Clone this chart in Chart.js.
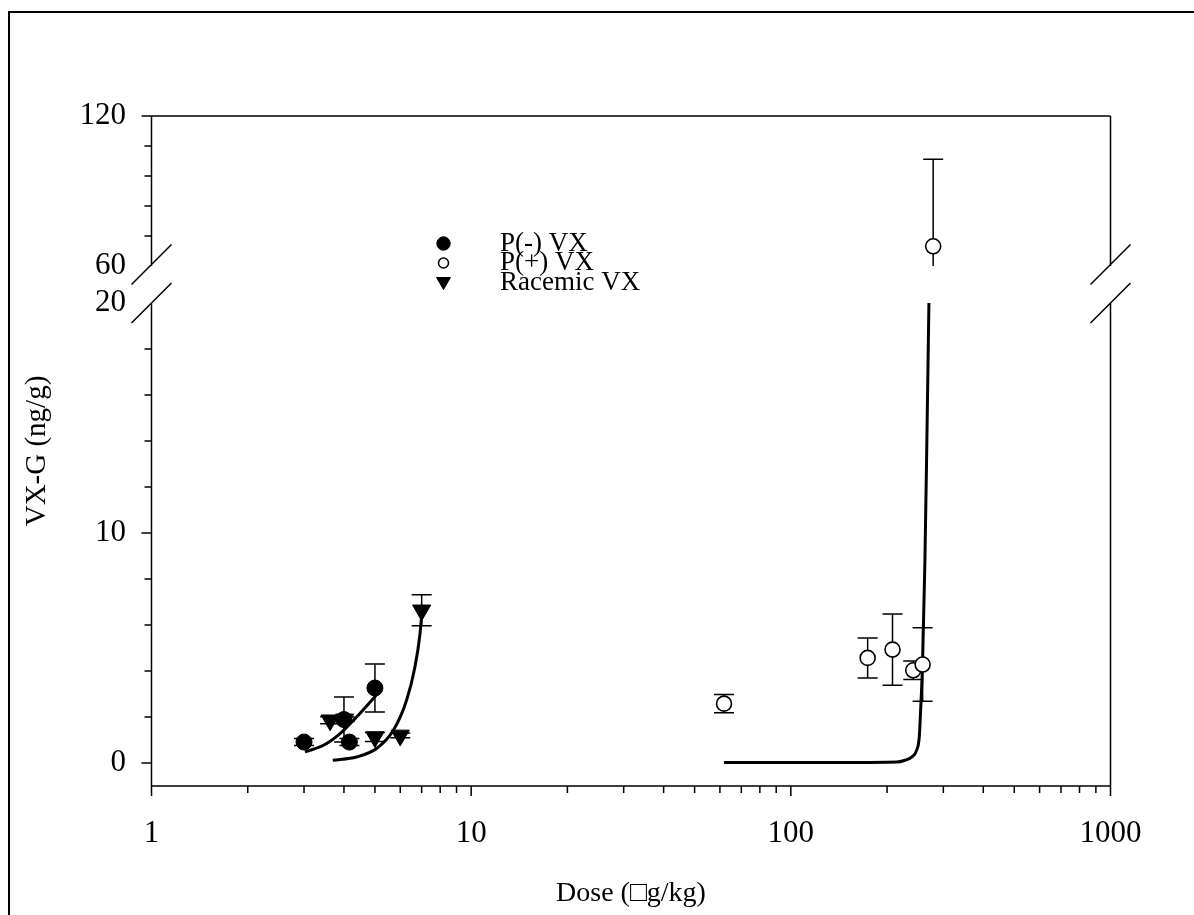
<!DOCTYPE html>
<html><head><meta charset="utf-8">
<script src="https://cdn.jsdelivr.net/npm/chart.js@4/dist/chart.umd.min.js"></script>
<style>html,body{margin:0;padding:0;background:#fff;}</style>
</head><body>
<canvas id="c" width="1194" height="915"></canvas>
<script>
// ---------- data ----------
const pMinusDose = [3.0, 4.0, 4.16, 5.0];
const pMinusVXG  = [0.91, 1.89, 0.91, 3.26];
const pMinusErr  = [0.15, 0.98, 0.15, 1.04];

const pPlusDose = [61.8, 173.9, 208, 241.5, 258.4, 278.8];
const pPlusVXG  = [2.58, 4.57, 4.93, 4.03, 4.28, 67.9];
const pPlusErr  = [0.40, 0.87, 1.55, 0.40, 1.60, 34.8];

const racDose = [3.62, 4.02, 5.0, 6.0, 7.0];
const racVXG  = [1.86, 1.90, 1.13, 1.20, 6.64];
const racErr  = [0.15, 0.10, 0.20, 0.10, 0.67];

const pMinusFitDose = [3.02, 3.45, 3.89, 4.38, 5.04];
const pMinusFitVXG  = [0.48, 0.77, 1.28, 2.00, 2.94];

const racFitDose = [3.69, 4.38, 5.06, 5.71, 6.28, 6.67, 6.92, 7.0];
const racFitVXG  = [0.12, 0.26, 0.63, 1.42, 2.73, 4.17, 5.63, 6.42];

const pPlusFitDose = [61.8, 100, 150, 214, 227.6, 238.7, 247.4, 252.2, 254.7, 258.4, 262.7, 266.4, 270.4];
const pPlusFitVXG  = [0.02, 0.02, 0.02, 0.04, 0.12, 0.26, 0.55, 1.13, 2.29, 4.47, 8.8, 14.0, 20.0];

const xTickVals = [1, 10, 100, 1000];
const yTickVals = [0, 10, 20, 60, 120];
const yMinorLower = [2, 4, 6, 8, 12, 14, 16, 18];
const yMinorUpper = [72, 84, 96, 108];
const legendLabels = ['P(-) VX', 'P(+) VX', 'Racemic VX'];
const xTitle = 'Dose (\u25A1g/kg)';
const yTitle = 'VX-G (ng/g)';

// ---------- broken y scale ----------
const BREAK = {lowMin: -1, lowMax: 20, highMin: 60, highMax: 120, lowTo: 0.7209, highFrom: 0.7761};
class BrokenLinearScale extends Chart.LinearScale {
  _frac(v) {
    const b = BREAK;
    if (v <= b.lowMax) return (v - b.lowMin) / (b.lowMax - b.lowMin) * b.lowTo;
    if (v >= b.highMin) return b.highFrom + (v - b.highMin) / (b.highMax - b.highMin) * (1 - b.highFrom);
    return b.lowTo + (v - b.lowMax) / (b.highMin - b.lowMax) * (b.highFrom - b.lowTo);
  }
  getPixelForValue(v) {
    if (v === null || v === undefined || isNaN(v)) return NaN;
    return this.bottom - this._frac(v) * (this.bottom - this.top);
  }
  getValueForPixel(p) {
    const b = BREAK;
    const f = (this.bottom - p) / (this.bottom - this.top);
    if (f <= b.lowTo) return b.lowMin + f / b.lowTo * (b.lowMax - b.lowMin);
    if (f >= b.highFrom) return b.highMin + (f - b.highFrom) / (1 - b.highFrom) * (b.highMax - b.highMin);
    return b.lowMax + (f - b.lowTo) / (b.highFrom - b.lowTo) * (b.highMin - b.lowMax);
  }
}
BrokenLinearScale.id = 'brokenLinear';
BrokenLinearScale.defaults = Chart.LinearScale.defaults;
Chart.register(BrokenLinearScale);

const FONT = 'Liberation Serif, Times New Roman, serif';
const pts = (xs, ys) => xs.map((x, i) => ({x: x, y: ys[i]}));

const markerStyles = [
  {pointStyle: 'circle', radius: 8, rotation: 0, bg: '#000', border: '#000', bw: 1},
  {pointStyle: 'circle', radius: 7.5, rotation: 0, bg: '#fff', border: '#000', bw: 1.6},
  {pointStyle: 'triangle', radius: 10.5, rotation: 180, bg: '#000', border: '#000', bw: 1}
];

function markerDs(label, xs, ys, errs, st) {
  return {label, data: pts(xs, ys), errors: errs, showLine: false,
    pointStyle: st.pointStyle, pointRadius: st.radius, pointRotation: st.rotation,
    pointBackgroundColor: st.bg, pointBorderColor: st.border, pointBorderWidth: st.bw};
}
function fitDs(xs, ys) {
  return {label: 'fit', data: pts(xs, ys), showLine: true, borderColor: '#000', borderWidth: 3,
    pointRadius: 0, cubicInterpolationMode: 'monotone', fill: false, isFit: true};
}

const datasets = [
  markerDs(legendLabels[0], pMinusDose, pMinusVXG, pMinusErr, markerStyles[0]),
  markerDs(legendLabels[1], pPlusDose, pPlusVXG, pPlusErr, markerStyles[1]),
  markerDs(legendLabels[2], racDose, racVXG, racErr, markerStyles[2]),
  fitDs(pMinusFitDose, pMinusFitVXG),
  fitDs(racFitDose, racFitVXG),
  fitDs(pPlusFitDose, pPlusFitVXG)
];

const LW = 1.5;

const framePlugin = {
  id: 'frame',
  beforeDraw(chart) {
    const ctx = chart.ctx;
    ctx.save();
    ctx.fillStyle = '#fff';
    ctx.fillRect(0, 0, chart.width, chart.height);
    ctx.strokeStyle = '#000';
    ctx.lineWidth = 2;
    ctx.beginPath();
    ctx.moveTo(9, chart.height + 5);
    ctx.lineTo(9, 12);
    ctx.lineTo(chart.width + 5, 12);
    ctx.stroke();
    ctx.restore();
  },
  beforeDatasetsDraw(chart) {
    const ctx = chart.ctx, a = chart.chartArea, y = chart.scales.y, x = chart.scales.x;
    const yLowTop = y.getPixelForValue(BREAK.lowMax);
    const yHighBot = y.getPixelForValue(BREAK.highMin);
    ctx.save();
    ctx.beginPath();
    ctx.rect(a.left - 20, yLowTop, a.right - a.left + 40, a.bottom - yLowTop + 20);
    ctx.rect(a.left - 20, a.top - 20, a.right - a.left + 40, yHighBot - a.top + 20);
    ctx.clip();
    // error bars
    ctx.strokeStyle = '#000';
    ctx.lineWidth = LW;
    chart.data.datasets.forEach(ds => {
      if (!ds.errors) return;
      ds.data.forEach((p, i) => {
        const e = ds.errors[i];
        const px = x.getPixelForValue(p.x);
        const pt = y.getPixelForValue(p.y + e);
        const pb = y.getPixelForValue(p.y - e);
        ctx.beginPath();
        ctx.moveTo(px, pt); ctx.lineTo(px, pb);
        ctx.moveTo(px - 10, pt); ctx.lineTo(px + 10, pt);
        ctx.moveTo(px - 10, pb); ctx.lineTo(px + 10, pb);
        ctx.stroke();
      });
    });
  },
  afterDatasetsDraw(chart) {
    chart.ctx.restore();
  },
  afterDraw(chart) {
    const ctx = chart.ctx, a = chart.chartArea, y = chart.scales.y, x = chart.scales.x;
    const yLowTop = y.getPixelForValue(BREAK.lowMax);
    const yHighBot = y.getPixelForValue(BREAK.highMin);
    ctx.save();
    ctx.strokeStyle = '#000';
    ctx.lineWidth = LW;
    ctx.beginPath();
    ctx.moveTo(a.left, a.top); ctx.lineTo(a.right, a.top);
    ctx.moveTo(a.left, a.bottom); ctx.lineTo(a.right, a.bottom);
    [a.left, a.right].forEach(xx => {
      ctx.moveTo(xx, a.top); ctx.lineTo(xx, yHighBot);
      ctx.moveTo(xx, yLowTop); ctx.lineTo(xx, a.bottom);
    });
    for (let d = 1; d < 1000; d *= 10) {
      for (let k = 1; k <= 9; k++) {
        const px = x.getPixelForValue(k * d);
        const len = k === 1 ? 10 : 7;
        ctx.moveTo(px, a.bottom); ctx.lineTo(px, a.bottom + len);
      }
    }
    const p1000 = x.getPixelForValue(1000);
    ctx.moveTo(p1000, a.bottom); ctx.lineTo(p1000, a.bottom + 10);
    [0, 10, 120].forEach(v => {
      const py = y.getPixelForValue(v);
      ctx.moveTo(a.left - 10, py); ctx.lineTo(a.left, py);
    });
    yMinorLower.concat(yMinorUpper).forEach(v => {
      const py = y.getPixelForValue(v);
      ctx.moveTo(a.left - 7, py); ctx.lineTo(a.left, py);
    });
    [a.left, a.right].forEach(xx => {
      [yHighBot - 1.5, yLowTop].forEach(yy => {
        ctx.moveTo(xx - 20, yy + 20); ctx.lineTo(xx + 20, yy - 20);
      });
    });
    ctx.stroke();

    // legend
    const lx = 443.5, tx = 500, rows = [243.5, 263, 282.5];
    const legendMarkers = [
      {pointStyle: 'circle', radius: 6.7, rotation: 0, bg: '#000', bw: 1},
      {pointStyle: 'circle', radius: 5, rotation: 0, bg: '#fff', bw: 1.5},
      {pointStyle: 'triangle', radius: 8, rotation: 180, bg: '#000', bw: 1}
    ];
    legendLabels.forEach((lab, i) => {
      const m = legendMarkers[i];
      ctx.fillStyle = m.bg; ctx.strokeStyle = '#000'; ctx.lineWidth = m.bw;
      Chart.helpers.drawPoint(ctx, {pointStyle: m.pointStyle, radius: m.radius, rotation: m.rotation, borderWidth: m.bw}, lx, rows[i] + (m.pointStyle === 'triangle' ? -1 : 0));
      ctx.fillStyle = '#000';
      ctx.font = '27px ' + FONT;
      ctx.textAlign = 'left';
      ctx.textBaseline = 'middle';
      ctx.fillText(lab, tx, rows[i]);
    });
    ctx.restore();
  }
};

new Chart(document.getElementById('c'), {
  type: 'scatter',
  data: {datasets},
  options: {
    responsive: false,
    animation: false,
    events: [],
    layout: {padding: {top: 116, right: 83.5, left: 0, bottom: 0}},
    plugins: {legend: {display: false}, tooltip: {enabled: false}},
    scales: {
      x: {
        type: 'logarithmic', min: 1, max: 1000, position: 'bottom',
        afterBuildTicks: s => { s.ticks = xTickVals.map(v => ({value: v})); },
        afterFit: s => { s.height = 129; },
        grid: {display: false, drawTicks: false},
        border: {display: false},
        ticks: {autoSkip: false, maxRotation: 0, minRotation: 0, padding: 29, color: '#000',
          font: {family: FONT, size: 31}, callback: v => String(v)},
        title: {display: true, text: xTitle, color: '#000', font: {family: FONT, size: 28},
          padding: {top: 0, bottom: 5}}
      },
      y: {
        type: 'brokenLinear', min: -1, max: 120, position: 'left',
        afterBuildTicks: s => { s.ticks = yTickVals.map(v => ({value: v})); },
        afterFit: s => { s.width = 151.5; },
        grid: {display: false, drawTicks: false},
        border: {display: false},
        ticks: {autoSkip: false, padding: 25.5, color: '#000', font: {family: FONT, size: 31},
          callback: v => String(v)},
        title: {display: true, text: yTitle, color: '#000', font: {family: FONT, size: 29},
          padding: {top: 20, bottom: 0}}
      }
    }
  },
  plugins: [framePlugin]
});
</script>
</body></html>
